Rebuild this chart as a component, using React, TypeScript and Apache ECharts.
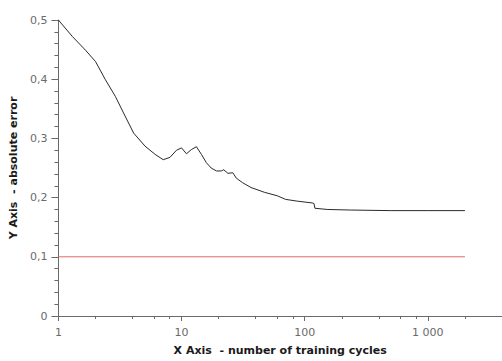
import React, { useEffect, useRef } from "react";
import * as echarts from "echarts";

const cycles = [1, 1.3, 1.66, 2, 2.41, 2.9, 3.38, 4.08, 5.05, 6.1, 7.1, 8.05, 9.1, 10, 10.96, 12, 13.2, 14.5, 15.9, 17.4, 19.2, 21, 22, 23.8, 26.1, 27.8, 31.4, 36.7, 44.2, 47, 60, 70, 87, 115, 119, 121, 152, 235, 500, 1000, 2000];
const errors = [0.5, 0.472, 0.449, 0.43, 0.399, 0.371, 0.343, 0.309, 0.287, 0.273, 0.264, 0.268, 0.28, 0.284, 0.274, 0.281, 0.286, 0.273, 0.259, 0.25, 0.245, 0.245, 0.247, 0.241, 0.242, 0.233, 0.225, 0.217, 0.211, 0.209, 0.203, 0.197, 0.194, 0.191, 0.19, 0.182, 0.18, 0.179, 0.178, 0.178, 0.178];
const thresholdX = [1, 2000];
const thresholdY = [0.1, 0.1];
const majorXTicks = [1, 10, 100, 1000];
const minorXTicks = [2, 4, 6, 8, 20, 40, 60, 80, 200, 400, 600, 800, 2000];

const FONT = "DejaVu Sans";
const AXIS_COLOR = "#6a6a6a";

export default function App() {
  const ref = useRef<HTMLDivElement>(null);
  useEffect(() => {
    if (!ref.current) return;
    const chart = echarts.init(ref.current, undefined, { renderer: "svg" });
    const xCommon = {
      type: "log" as const,
      min: 1,
      max: 4000,
      splitLine: { show: false },
      minorSplitLine: { show: false },
    };
    chart.setOption({
      animation: false,
      backgroundColor: "#ffffff",
      textStyle: { fontFamily: FONT },
      grid: { left: 56, right: 0, top: 20, bottom: 43, containLabel: false },
      xAxis: [
        {
          ...xCommon,
          name: "X Axis  - number of training cycles",
          nameLocation: "middle",
          nameGap: 29,
          nameTextStyle: { fontFamily: FONT, fontWeight: "bold", fontSize: 11, color: "#1a1a1a" },
          axisLine: { show: true, lineStyle: { color: AXIS_COLOR, width: 1 } },
          axisTick: { show: true, length: 5, customValues: majorXTicks, lineStyle: { color: AXIS_COLOR } },
          axisLabel: {
            customValues: majorXTicks,
            margin: 11,
            fontSize: 11,
            color: "#6a6a6a",
            fontFamily: FONT,
            formatter: (v: number) => String(Math.round(v)).replace(/\B(?=(\d{3})+(?!\d))/g, " "),
          },
        },
        {
          ...xCommon,
          position: "bottom",
          axisLine: { show: false },
          axisTick: { show: true, length: 3, customValues: minorXTicks, lineStyle: { color: AXIS_COLOR } },
          axisLabel: { show: false },
        },
      ],
      yAxis: {
        type: "value",
        min: 0,
        max: 0.5,
        interval: 0.1,
        name: "Y Axis  - absolute error",
        nameLocation: "middle",
        nameGap: 36,
        nameRotate: 90,
        nameTextStyle: { fontFamily: FONT, fontWeight: "bold", fontSize: 11, color: "#1a1a1a" },
        axisLine: { show: true, lineStyle: { color: AXIS_COLOR, width: 1 } },
        axisTick: { show: true, length: 7, lineStyle: { color: AXIS_COLOR } },
        minorTick: { show: true, splitNumber: 5, length: 4, lineStyle: { color: AXIS_COLOR } },
        splitLine: { show: false },
        axisLabel: {
          margin: 11,
          fontSize: 11,
          color: "#6a6a6a",
          fontFamily: FONT,
          formatter: (v: number) => (v === 0 ? "0" : v.toFixed(1).replace(".", ",")),
        },
      },
      series: [
        {
          type: "line",
          xAxisIndex: 0,
          data: thresholdX.map((x, i) => [x, thresholdY[i]]),
          showSymbol: false,
          lineStyle: { color: "#e06a6a", width: 1 },
          silent: true,
        },
        {
          type: "line",
          xAxisIndex: 0,
          data: cycles.map((x, i) => [x, errors[i]]),
          showSymbol: false,
          lineStyle: { color: "#2a2a2a", width: 1 },
          silent: true,
        },
      ],
    });
    return () => chart.dispose();
  }, []);
  return <div ref={ref} style={{ width: 502, height: 361, position: "absolute", left: 0, top: 0 }} />;
}
